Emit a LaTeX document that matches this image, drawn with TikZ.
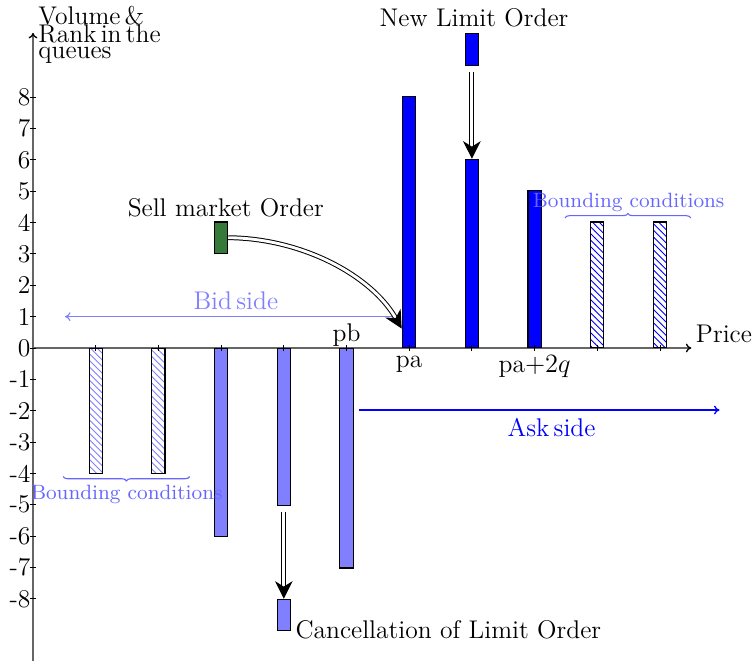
\documentclass[tikz,border=0pt]{standalone}
\usetikzlibrary{arrows.meta,patterns,decorations.pathreplacing}
\definecolor{mkgreen}{RGB}{53,122,56}
\begin{document}
\begin{tikzpicture}[x=0.5cm,y=0.5cm, font=\fontsize{11.6}{13.9}\selectfont,
  bar/.style={draw=black, line width=0.5pt, inner sep=0pt, minimum width=0.21cm},
  askbar/.style={bar, fill=blue},
  bidbar/.style={bar, fill=blue!50},
  askhatch/.style={bar, pattern=north west lines, pattern color=blue},
  bidhatch/.style={bar, pattern=north west lines, pattern color=blue!50},
  axis/.style={draw=black!60, line width=0.6pt},
  tickmark/.style={draw=black, line width=0.4pt},
  move/.style={double, double distance=1.3pt, line width=0.45pt, -{Stealth[length=8pt,width=8pt,inset=2.5pt]}},
  bclabel/.style={font=\fontsize{9.4}{11}\selectfont, text=blue!60},
  brc/.style={draw=blue!60, line width=0.5pt, decorate, decoration={brace, amplitude=2pt}}
]
\useasboundingbox (-1.053,-9.984) rectangle (22.967,11.10);
% axes
\draw[axis,-{To[length=2.5pt,width=4pt,color=black]}] (0,0) -- (21.0,0);
\draw[axis,-{To[length=2.5pt,width=4pt,color=black]}] (0,-10.2) -- (0,10.05);
\node[anchor=base west] (price) at (20.9,0.16) {Price};
% ask side bars
\node[askbar, minimum height=4cm, anchor=south] (a12) at (12,0) {};
\node[askbar, minimum height=3cm, anchor=south] (a14) at (14,0) {};
\node[askbar, minimum height=2.5cm, anchor=south] (a16) at (16,0) {};
\node[askhatch, minimum height=2cm, anchor=south] (a18) at (18,0) {};
\node[askhatch, minimum height=2cm, anchor=south] (a20) at (20,0) {};
% bid side bars
\node[bidhatch, minimum height=2cm, anchor=north] (b2) at (2,0) {};
\node[bidhatch, minimum height=2cm, anchor=north] (b4) at (4,0) {};
\node[bidbar, minimum height=3cm, anchor=north] (b6) at (6,0) {};
\node[bidbar, minimum height=2.5cm, anchor=north] (b8) at (8,0) {};
\node[bidbar, minimum height=3.5cm, anchor=north] (b10) at (10,0) {};
% order bars
\node[askbar, minimum height=0.5cm, anchor=south] (nlo) at (14,9) {};
\node[bidbar, minimum height=0.5cm, anchor=north] (cancel) at (8,-8) {};
\node[bar, fill=mkgreen, minimum height=0.5cm, anchor=south] (green) at (6,3) {};
% ticks and tick labels
\foreach \i [count=\k] in {-8,...,8} {
  \draw[tickmark] (-0.1,\i) -- (0.1,\i);
  \node[anchor=east, inner sep=1pt] (yl\k) at (0,\i) {\i};
}
\foreach \x in {2,4,...,20} \draw[tickmark] (\x,-0.1) -- (\x,0.1);
\node[anchor=base] (pb) at (10,0.2) {pb};
\node[anchor=north] (pa) at (12,0) {pa};
\node[anchor=north] (pa2) at (16,0) {pa$+2q$};
% axis title
\node[anchor=base west, inner sep=0pt] (t1) at (0.16,10.33) {Volume\,\&};
\node[anchor=base west, inner sep=0pt] (t2) at (0.16,9.73) {Rank\,in\,the};
\node[anchor=base west, inner sep=0pt] (t3) at (0.16,9.22) {queues};
% texts
\node[anchor=base] (nlotxt) at (14.07,10.25) {New Limit Order};
\node[anchor=base] (smotxt) at (6.15,4.18) {Sell market Order};
\node[anchor=base west, inner sep=0pt] (cantxt) at (8.36,-9.26) {Cancellation of Limit Order};
\node[anchor=base, text=blue!50] (bidtxt) at (6.47,1.24) {Bid\,side};
\node[anchor=base, text=blue] (asktxt) at (16.54,-2.81) {Ask\,side};
% side arrows
\coordinate (bidL) at (1.02,1);
\coordinate (bidR) at (11.75,1);
\draw[blue!50, line width=0.5pt, -{To[length=2.5pt,width=4pt]}] (bidR) -- (bidL);
\coordinate (askL) at (10.4,-1.98);
\coordinate (askR) at (21.9,-1.98);
\draw[blue, line width=0.6pt, -{To[length=2.5pt,width=4pt]}] (askL) -- (askR);
% bounding conditions
\coordinate (bt1) at (16.97,4.15);
\coordinate (bt2) at (20.98,4.15);
\draw[brc] (bt1) -- (bt2);
\node[bclabel, anchor=base] (bctop) at (19.0,4.47) {Bounding conditions};
\coordinate (bb1) at (0.96,-4.1);
\coordinate (bb2) at (5.0,-4.1);
\draw[brc] (bb2) -- (bb1);
\node[bclabel, anchor=base] (bcbot) at (2.99,-4.82) {Bounding conditions};
% order arrows
\coordinate (hit) at (11.76,0.62);
\draw[move, shorten <=2.7pt] (nlo.south) -- (a14.north);
\draw[move, shorten <=2.7pt] (b8.south) -- (cancel.north);
\draw[move] (green.east) .. controls (8.6,3.5) and (10.8,2.3) .. (hit);
\end{tikzpicture}
\end{document}
